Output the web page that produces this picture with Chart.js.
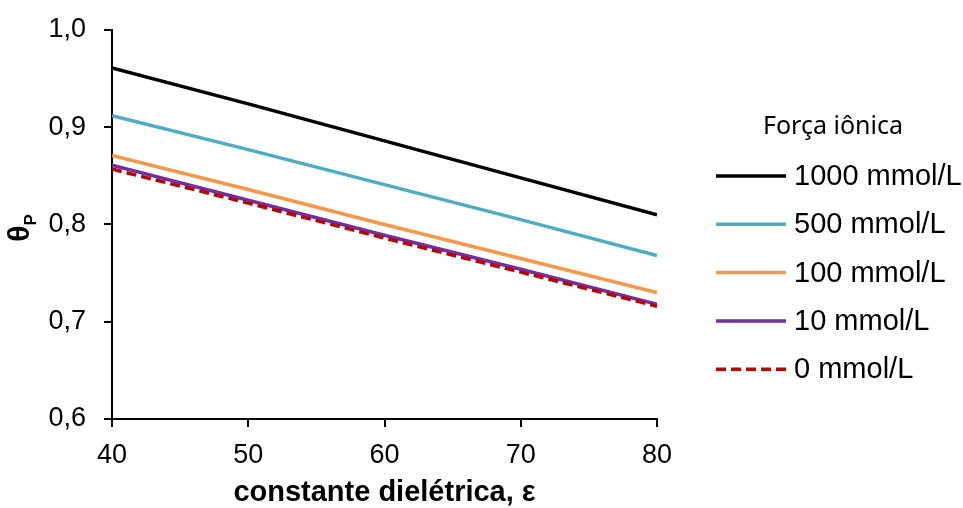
<!DOCTYPE html>
<html>
<head>
<meta charset="utf-8">
<script src="https://cdn.jsdelivr.net/npm/chart.js@4/dist/chart.umd.min.js"></script>
<style>
  html, body { margin: 0; padding: 0; background: #fff; }
  #wrap { position: relative; width: 963px; height: 508px; }
</style>
</head>
<body>
<div id="wrap"><canvas id="thetaChart"></canvas></div>
<script>
// constante dielétrica (eixo x)
const epsilon = [40, 50, 60, 70, 80];

// theta_P para cada força iônica
const theta1000 = [0.961, 0.924, 0.886, 0.848, 0.810];
const theta500 = [0.912, 0.877, 0.841, 0.805, 0.768];
const theta100 = [0.871, 0.836, 0.800, 0.765, 0.730];
const theta10 = [0.861, 0.825, 0.789, 0.754, 0.718];
const theta0 = [0.857, 0.822, 0.786, 0.751, 0.716];

const seriesLabels = ["1000 mmol/L", "500 mmol/L", "100 mmol/L", "10 mmol/L", "0 mmol/L"];
const seriesValues = [theta1000, theta500, theta100, theta10, theta0];
const seriesColors = ["#000000", "#4BACC6", "#F79646", "#7030A0", "#C00000"];
const seriesDash = [[], [], [], [], [10, 5]];

const yTicks = [0.6, 0.7, 0.8, 0.9, 1.0];
const xTicks = [40, 50, 60, 70, 80];

const legendTitle = "Força iônica";
const sansFont = "'Liberation Sans', Arial, sans-serif";

const toPoints = vals => vals.map((v, i) => ({ x: epsilon[i], y: v }));

// legenda desenhada à direita do gráfico
const sideLegend = {
    id: "sideLegend",
    afterDraw(chart) {
        const ctx = chart.ctx;
        ctx.save();
        ctx.fillStyle = "#000";
        ctx.textBaseline = "middle";
        ctx.font = "25px 'Noto Sans', 'Open Sans', sans-serif";
        ctx.textAlign = "center";
        ctx.fillText(legendTitle, 833, 127);

        ctx.font = "29px " + sansFont;
        ctx.textAlign = "left";
        chart.data.datasets.forEach((ds, i) => {
            const y = 176 + i * 48.3;
            ctx.beginPath();
            ctx.strokeStyle = ds.borderColor;
            ctx.lineWidth = 3.5;
            ctx.setLineDash(ds.borderDash || []);
            ctx.moveTo(716, y);
            ctx.lineTo(786, y);
            ctx.stroke();
            ctx.setLineDash([]);
            ctx.fillText(ds.label, 794, y + 1);
        });
        ctx.restore();
    }
};

// título do eixo y com subscrito
const yTitle = {
    id: "yTitle",
    afterDraw(chart) {
        const ctx = chart.ctx;
        ctx.save();
        ctx.translate(21, 228);
        ctx.rotate(-Math.PI / 2);
        ctx.fillStyle = "#000";
        ctx.textBaseline = "middle";
        ctx.textAlign = "left";
        ctx.font = "bold 30px " + sansFont;
        const w = ctx.measureText("θ").width;
        ctx.font = "bold 17px " + sansFont;
        const pw = ctx.measureText("P").width;
        const x0 = -(w + pw) / 2;
        ctx.font = "bold 30px " + sansFont;
        ctx.fillText("θ", x0, 0);
        ctx.font = "bold 17px " + sansFont;
        ctx.fillText("P", x0 + w, 10);
        ctx.restore();
    }
};

new Chart(document.getElementById("thetaChart"), {
    type: "line",
    data: {
        datasets: seriesValues.map((vals, i) => ({
            label: seriesLabels[i],
            data: toPoints(vals),
            borderColor: seriesColors[i],
            backgroundColor: seriesColors[i],
            borderDash: seriesDash[i],
            borderWidth: 3.5,
            borderCapStyle: "butt",
            pointRadius: 0,
            tension: 0,
            fill: false,
            order: seriesValues.length - 1 - i
        }))
    },
    options: {
        responsive: true,
        maintainAspectRatio: false,
        animation: false,
        events: [],
        layout: {
            padding: { left: 0, right: 306, top: 30, bottom: 0 }
        },
        plugins: {
            legend: { display: false },
            tooltip: { enabled: false }
        },
        scales: {
            x: {
                type: "linear",
                min: 40,
                max: 80,
                afterFit: s => { s.height = 89; s.paddingLeft = 0; s.paddingRight = 0; },
                afterBuildTicks: s => { s.ticks = xTicks.map(v => ({ value: v })); },
                grid: {
                    display: true,
                    drawOnChartArea: false,
                    drawTicks: true,
                    tickLength: 8,
                    color: "#000",
                    lineWidth: 2
                },
                border: { display: true, color: "#000", width: 2 },
                ticks: {
                    color: "#000",
                    font: { family: sansFont, size: 27 },
                    padding: 12,
                    maxRotation: 0
                },
                title: {
                    display: true,
                    text: "constante dielétrica, ε",
                    color: "#000",
                    font: { family: sansFont, size: 29, weight: "bold" },
                    padding: { top: 0, bottom: -2 }
                }
            },
            y: {
                min: 0.6,
                max: 1.0,
                afterFit: s => { s.width = 112; s.paddingTop = 0; s.paddingBottom = 0; },
                afterBuildTicks: s => { s.ticks = yTicks.map(v => ({ value: v })); },
                grid: {
                    display: true,
                    drawOnChartArea: false,
                    drawTicks: true,
                    tickLength: 8,
                    color: "#000",
                    lineWidth: 2
                },
                border: { display: true, color: "#000", width: 2 },
                ticks: {
                    color: "#000",
                    font: { family: sansFont, size: 27 },
                    padding: 18,
                    callback: v => v.toFixed(1).replace(".", ",")
                }
            }
        }
    },
    plugins: [sideLegend, yTitle]
});
</script>
</body>
</html>
